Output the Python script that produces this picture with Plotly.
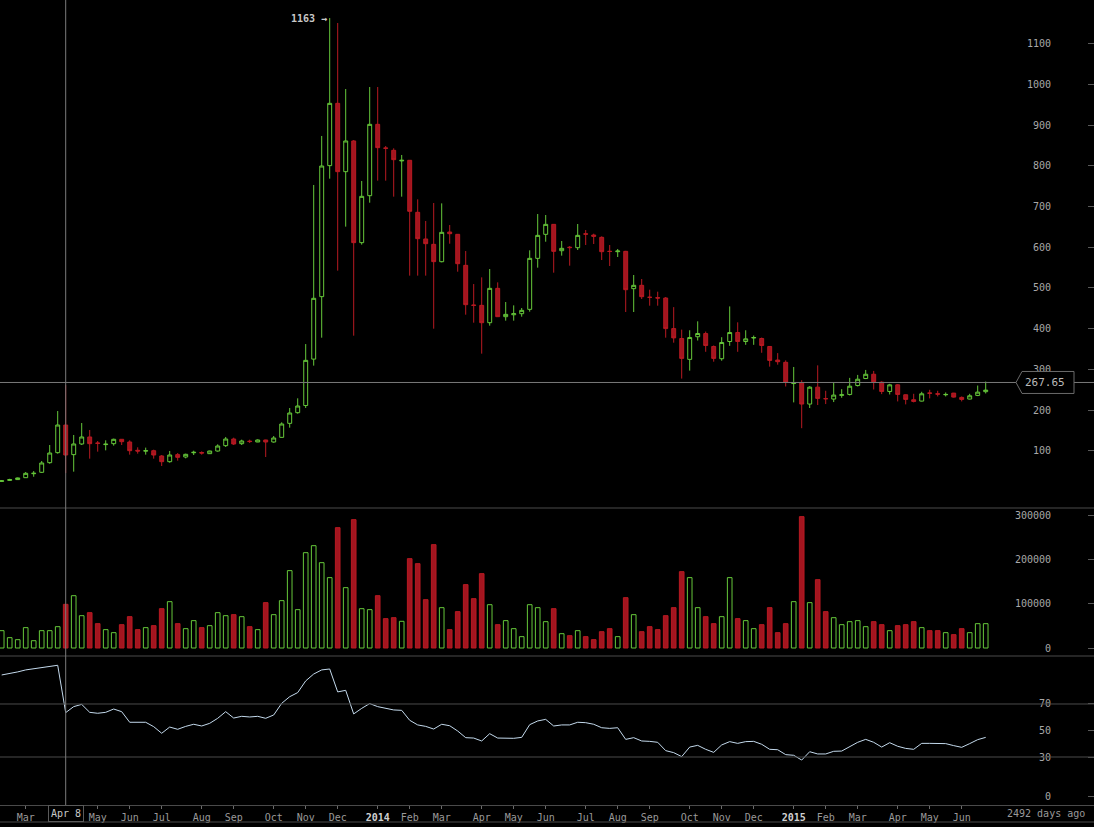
import pandas as pd
import plotly.graph_objects as go

# weekly candles, first week starts Mon 11 Feb 2013
first_week = "2013-02-11"
n_weeks = 124

opens = [24.5, 27, 29, 33.7, 43.5, 46.9, 70.6, 95.2, 163, 90.3,
         116.5, 133.7, 119, 115, 117.3, 128, 121.4, 101, 99, 100,
         87, 73, 90.3, 84.5, 95, 95.5, 92.7, 99.2, 112.4, 128.7,
         117.3, 123.5, 121.4, 126.3, 121.4, 132.8, 167.2, 193.4, 211, 325,
         478.5, 800.4, 953.5, 785.6, 861, 611.2, 726.6, 901.9, 844, 838,
         812, 813.5, 685.7, 620.2, 607, 564.4, 637.3, 631.6, 555.4, 458,
         457.1, 414.5, 498.9, 429.3, 434, 436.6, 447.3, 572.6, 631.6, 656.1,
         591.4, 600, 598.8, 633, 629.9, 624.2, 590, 589, 589.8, 498.1,
         506.3, 477, 476, 475.1, 400, 375.6, 324.4, 380, 387.8, 356.1,
         326, 368.3, 390.3, 368.3, 377, 375.6, 356.1, 322.7, 317.1, 265,
         266.7, 214.6, 256.1, 228, 226.9, 236, 238.2, 260.1, 277.3, 287.8,
         268.3, 245.5, 261.8, 237.4, 225.2, 221.9, 242, 240, 237.5, 241.5,
         230.9, 226.9, 235.8, 245]
highs = [28, 31, 34, 47.7, 50, 74.7, 114, 197.5, 261, 138.6,
         168, 150.9, 123.8, 125.5, 129.6, 128.7, 125.5, 108.3, 107.5, 102.5,
         89.4, 99.3, 94.3, 92.7, 100, 98.4, 100, 115.6, 133.7, 132,
         127.1, 127.1, 127.9, 127, 136.1, 169.7, 204.9, 228.7, 362, 752.9,
         873.3, 1163, 1150.9, 988.7, 863.4, 762.7, 993.6, 993.6, 848.7, 843,
         826.6, 814, 717.6, 664.4, 708.6, 707.7, 654.5, 632, 590.6, 509.5,
         525.9, 546.4, 513.6, 465.3, 457.1, 450.6, 592.3, 681.5, 679.1, 657,
         615.2, 602.9, 657, 642.2, 633.2, 626.7, 605.4, 595.5, 591, 531.7,
         521.8, 495.6, 490.7, 477.6, 452.8, 397.5, 395.9, 417.9, 392.7, 358.5,
         378.9, 454.5, 415.4, 395.9, 382.9, 378, 356.5, 339.8, 321.9, 305.7,
         273.2, 258.5, 309.7, 247.2, 268.3, 251.2, 278.9, 286.2, 298.4, 296,
         270.7, 264.2, 263.4, 238, 239.8, 244.7, 249.6, 247.2, 243.1, 242,
         233.3, 239.8, 260.1, 269.9]
lows = [23, 25.6, 28.5, 32.9, 36, 45.2, 68, 92.7, 45, 48.5,
        114, 80.4, 97.6, 100.9, 112.4, 114, 90.3, 92.7, 90.3, 80.4,
        62.4, 70.6, 75.5, 81.2, 89.4, 90.3, 91.9, 97.6, 109.1, 114,
        114, 118.9, 121, 84.5, 119.7, 132, 156.6, 191, 205, 309,
        377.7, 768.4, 542.4, 650.5, 382.6, 606.3, 709.4, 763.5, 763.5, 724.2,
        724.2, 530.1, 530.1, 530.1, 399.8, 562.8, 608.6, 539.8, 434.2, 414.5,
        338.4, 407.2, 429, 419.5, 419.5, 429.3, 441.6, 549.7, 613.5, 537.4,
        579.2, 554.6, 593.1, 605.4, 607.8, 568.5, 553.8, 575.9, 440.8, 440.8,
        472.7, 456.3, 456.3, 377.7, 365.4, 277.2, 296.7, 370.7, 343, 318.7,
        321.1, 357.7, 343, 360.1, 360.1, 340.6, 306.5, 311.4, 257.7, 218.7,
        155.3, 204.9, 212.2, 214.6, 219.5, 230.1, 235.8, 257.7, 276, 250.4,
        239, 238.2, 221.1, 213.8, 218.7, 221, 228.5, 233.3, 233.3, 230.5,
        221.1, 226, 234.1, 240.6]
closes = [26, 29, 33, 44.4, 44.5, 69.8, 94.3, 163.1, 89.4, 116.5,
          133.7, 117.3, 118, 116, 128, 122.2, 100, 99.2, 100, 89.4,
          73, 89.4, 83.7, 91.1, 96, 94.3, 99.2, 111.5, 128.7, 116.5,
          123.8, 122.5, 126.3, 121.4, 131.2, 165.6, 192.6, 209.8, 322, 474.4,
          799.5, 953.5, 785.6, 861, 611.2, 725, 901.9, 844.6, 842.9, 815.1,
          813.5, 688.2, 621, 608.7, 564.5, 636.5, 633.2, 559.5, 458.8, 457,
          414.5, 498.9, 429.3, 435, 436.6, 444.8, 572.6, 629.1, 656.1, 589.8,
          597.2, 599, 629.1, 632, 626.7, 589, 589.5, 590.5, 495.6, 506.3,
          478.4, 476.8, 475.1, 400, 377.2, 326.8, 378, 387.9, 358.5, 326.8,
          365.8, 390.3, 368.3, 374.8, 378, 358.5, 321.9, 318.7, 268.3, 266.6,
          214.6, 256.1, 228.5, 227.6, 236.6, 237.4, 258.5, 275.6, 287.8, 269.1,
          245.5, 261.8, 238.2, 226, 221.1, 239.8, 241, 239, 238.2, 231.7,
          226, 234.9, 243.9, 248.8]
volumes = [39100, 23300, 18800, 45900, 16500, 39100, 39100, 48100, 98500, 118000,
           72900, 79700, 54900, 41400, 34600, 52600, 70700, 41400, 45900, 50400,
           88700, 104500, 54900, 43600, 61700, 45900, 50400, 79700, 72900, 75200,
           70700, 48100, 41400, 102300, 75200, 106800, 174500, 86500, 215000, 230800,
           192500, 158700, 271400, 136100, 289500, 88700, 86500, 118000, 66200, 68400,
           60200, 201500, 190200, 109000, 233100, 91000, 41400, 82000, 142900, 111300,
           167700, 97700, 52600, 61700, 43600, 25600, 97700, 91000, 59400, 88700,
           32300, 27800, 39100, 25600, 18800, 36800, 43600, 25600, 113500, 75200,
           36800, 48100, 41400, 72900, 91000, 172200, 158700, 91000, 70700, 54900,
           70700, 158700, 66200, 61700, 43600, 52600, 91000, 34600, 54900, 104500,
           296300, 102300, 154100, 82000, 68400, 52600, 59400, 61700, 48100, 59400,
           52600, 39100, 50400, 52600, 59400, 45900, 39100, 39100, 34600, 30100,
           43600, 34600, 54900, 54900]
rsi = [91.9, 92.9, 94.2, 95.7, 96.7, 97.7, 98.4, 99.2, 63.5, 68.0,
       69.7, 63.7, 63.0, 63.7, 66.2, 64.2, 56.2, 56.2, 56.2, 52.9,
       47.9, 52.6, 50.9, 53.1, 54.7, 53.4, 55.4, 59.2, 64.2, 59.4,
       60.7, 60.2, 60.7, 59.2, 61.7, 70.5, 75.5, 78.6, 87.4, 92.6,
       95.7, 96.4, 79.1, 80.3, 62.5, 66.7, 70.3, 68.0, 67.0, 65.5,
       65.2, 57.7, 54.2, 53.1, 51.1, 54.7, 53.6, 49.6, 44.6, 44.3,
       42.1, 47.6, 44.3, 44.1, 44.1, 44.8, 54.4, 57.2, 58.4, 53.4,
       54.2, 54.2, 56.2, 55.9, 54.7, 52.1, 51.6, 52.1, 43.3, 44.6,
       42.1, 41.8, 41.1, 34.8, 33.3, 30.3, 37.5, 38.8, 35.8, 33.5,
       39.1, 41.6, 40.3, 41.6, 41.8, 39.6, 35.8, 35.5, 31.8, 31.3,
       27.7, 34.0, 32.3, 32.3, 34.3, 34.5, 37.5, 41.1, 43.3, 41.1,
       37.5, 40.8, 38.1, 36.5, 35.8, 40.3, 40.3, 40.1, 40.1, 38.6,
       37.3, 40.1, 43.1, 44.8]

# "Apr" 2013 sits under the cursor date label, so it is left blank
month_ticks = ["2013-03-04", "2013-04-01", "2013-05-06", "2013-06-03", "2013-07-01",
               "2013-08-05", "2013-09-02", "2013-10-07", "2013-11-04", "2013-12-02",
               "2014-01-06", "2014-02-03", "2014-03-03", "2014-04-07", "2014-05-05",
               "2014-06-02", "2014-07-07", "2014-08-04", "2014-09-01", "2014-10-06",
               "2014-11-03", "2014-12-01", "2015-01-05", "2015-02-02", "2015-03-02",
               "2015-04-06", "2015-05-04", "2015-06-01"]
month_labels = ["Mar", "", "May", "Jun", "Jul", "Aug", "Sep", "Oct", "Nov", "Dec",
                "2014", "Feb", "Mar", "Apr", "May", "Jun", "Jul", "Aug", "Sep", "Oct",
                "Nov", "Dec", "2015", "Feb", "Mar", "Apr", "May", "Jun"]
price_ticks = [100, 200, 300, 400, 500, 600, 700, 800, 900, 1000, 1100]
volume_ticks = [0, 100000, 200000, 300000]
rsi_ticks = [0, 30, 50, 70]

cursor_week = 8
cursor_price = 267.65

dates = pd.date_range(first_week, periods=n_weeks, freq="7D")

GREEN = "#66c83a"
RED_FILL = "#a3151f"
RED_LINE = "#b81a22"
GRID = "#4a4a4a"
TXT = "#a8a8a8"
MONO = "DejaVu Sans Mono"

up = [c >= o for o, c in zip(opens, closes)]
vol_fill = ["#000000" if u else RED_FILL for u in up]
vol_line = [GREEN if u else RED_LINE for u in up]

fig = go.Figure()

fig.add_trace(go.Candlestick(
    x=dates, open=opens, high=highs, low=lows, close=closes,
    increasing=dict(line=dict(color=GREEN, width=1), fillcolor="#000000"),
    decreasing=dict(line=dict(color=RED_LINE, width=1), fillcolor=RED_FILL),
    whiskerwidth=0, xaxis="x", yaxis="y", hoverinfo="skip"))

fig.add_trace(go.Bar(
    x=dates, y=volumes, width=0.58 * 7 * 86400000,
    marker=dict(color=vol_fill, line=dict(color=vol_line, width=1)),
    xaxis="x", yaxis="y2", hoverinfo="skip"))

fig.add_trace(go.Scatter(
    x=dates, y=rsi, mode="lines", line=dict(color="#c3d9ec", width=1),
    xaxis="x", yaxis="y3", hoverinfo="skip"))

# pixel layout: plot area is 1094 x 805, 8px per week
day0 = dates[0] - pd.Timedelta(days=1.7 * 7 / 8)
day1 = day0 + pd.Timedelta(days=1094 * 7 / 8)

price_dom = [1 - 508 / 805, 1]
vol_dom = [1 - 656 / 805, 1 - 508 / 805]
rsi_dom = [0, 1 - 656 / 805]

def right_axis(dom, rng, ticks, labels=None):
    return dict(domain=dom, range=rng, side="right", anchor="x",
                tickmode="array", tickvals=ticks,
                ticktext=labels if labels else [str(t) for t in ticks],
                ticklabelposition="inside", ticklabelstandoff=36,
                ticks="inside", ticklen=6, tickcolor="#5a5a5a",
                tickfont=dict(family=MONO, size=10, color=TXT),
                showgrid=False, zeroline=False, showline=False, fixedrange=True)

def dash_axis(over, rng, ticks):
    return dict(overlaying=over, anchor="free", position=997 / 1094, side="right",
                range=rng, tickmode="array", tickvals=ticks, showticklabels=False,
                ticks="inside", ticklen=5, tickcolor="#5a5a5a",
                showgrid=False, zeroline=False, showline=False)

price_rng = [-40.8, 1207.4]
vol_rng = [-18045, 315789]
rsi_rng = [-6.2, 106.2]

fig.update_layout(
    width=1094, height=827,
    margin=dict(l=0, r=0, t=0, b=22),
    paper_bgcolor="#000000", plot_bgcolor="#000000",
    showlegend=False,
    xaxis=dict(type="date", range=[day0, day1], domain=[0, 1], anchor="y3",
               rangeslider=dict(visible=False),
               tickmode="array", tickvals=month_ticks,
               ticktext=["<b><span style='color:#d0d0d0'>%s</span></b>" % l
                         if l.isdigit() else l for l in month_labels],
               ticks="outside", ticklen=3, tickcolor="#6a6a6a",
               tickfont=dict(family=MONO, size=10, color="#999999"),
               showline=True, linecolor=GRID, linewidth=1,
               showgrid=False, zeroline=False),
    yaxis=right_axis(price_dom, price_rng, price_ticks),
    yaxis2=right_axis(vol_dom, vol_rng, volume_ticks),
    yaxis3=right_axis(rsi_dom, rsi_rng, rsi_ticks),
    yaxis4=dash_axis("y", price_rng, price_ticks),
    yaxis5=dash_axis("y2", vol_rng, volume_ticks),
    yaxis6=dash_axis("y3", rsi_rng, rsi_ticks),
)

line = dict(color=GRID, width=1)
shapes = [
    dict(type="line", xref="paper", yref="paper", x0=0, x1=1,
         y0=price_dom[0], y1=price_dom[0], line=line),
    dict(type="line", xref="paper", yref="paper", x0=0, x1=1,
         y0=vol_dom[0], y1=vol_dom[0], line=line),
    dict(type="line", xref="paper", yref="paper", x0=0, x1=1,
         y0=-17 / 805, y1=-17 / 805, line=line),
    dict(type="line", xref="paper", yref="y3", x0=0, x1=1, y0=70, y1=70, line=line),
    dict(type="line", xref="paper", yref="y3", x0=0, x1=1, y0=30, y1=30, line=line),
    # crosshair
    dict(type="line", xref="paper", yref="y", x0=0, x1=1,
         y0=cursor_price, y1=cursor_price, line=dict(color="#7a7a7a", width=1)),
    dict(type="line", xref="x", yref="paper", x0=dates[cursor_week], x1=dates[cursor_week],
         y0=0, y1=1, line=dict(color="#7a7a7a", width=1)),
]
# price tag box with pointed left edge
px_per_unit = 40.7 / 100
top = cursor_price + 11 / px_per_unit
bot = cursor_price - 11 / px_per_unit
xl, xm, xr = 1016 / 1094, 1022 / 1094, 1074 / 1094
shapes.append(dict(type="path", xref="paper", yref="y",
                   path=f"M {xl},{cursor_price} L {xm},{top} L {xr},{top} "
                        f"L {xr},{bot} L {xm},{bot} Z",
                   fillcolor="#000000", line=dict(color="#6a6a6a", width=1)))
fig.update_layout(shapes=shapes)

peak = highs.index(max(highs))
fig.add_annotation(x=dates[peak], y=highs[peak], xref="x", yref="y",
                   text="<b>%d →</b>" % round(highs[peak]), showarrow=False,
                   xanchor="right", yanchor="middle", xshift=-1,
                   font=dict(family=MONO, size=10, color="#c8c8c8"))
fig.add_annotation(x=1045 / 1094, y=cursor_price, xref="paper", yref="y",
                   text="%.2f" % cursor_price, showarrow=False,
                   xanchor="center", yanchor="middle",
                   font=dict(family=MONO, size=11, color="#bbbbbb"))
fig.add_annotation(x=dates[cursor_week], y=-8.5 / 805, xref="x", yref="paper",
                   text=dates[cursor_week].strftime("%b ") + str(dates[cursor_week].day),
                   showarrow=False, xanchor="center", yanchor="middle",
                   bgcolor="#000000", bordercolor="#5a5a5a", borderwidth=1, borderpad=2,
                   font=dict(family=MONO, size=10, color="#c8c8c8"))
fig.add_annotation(x=1046 / 1094, y=-8.5 / 805, xref="paper", yref="paper",
                   text="2492 days ago", showarrow=False,
                   xanchor="center", yanchor="middle",
                   font=dict(family=MONO, size=10, color="#999999"))

fig.write_html("out.html", config={"displayModeBar": False},
               post_script="document.body.style.margin='0';"
                           "document.body.style.background='#000';")
